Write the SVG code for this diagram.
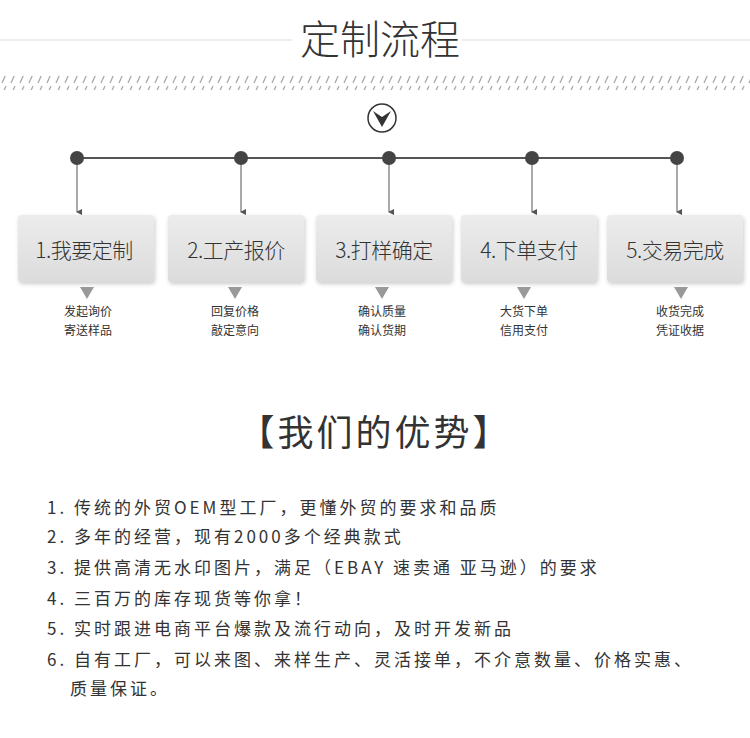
<svg xmlns="http://www.w3.org/2000/svg" width="750" height="738" viewBox="0 0 750 738">
<defs>
<pattern id="hatch" width="9" height="12" patternUnits="userSpaceOnUse"><line x1="2" y1="11" x2="6" y2="2" stroke="#aaa" stroke-width="1.3"/></pattern>
<linearGradient id="bg" x1="0" y1="0" x2="0" y2="1"><stop offset="0" stop-color="#ececec"/><stop offset="1" stop-color="#dcdcdc"/></linearGradient>
<marker id="ah" markerWidth="6" markerHeight="6" refX="3" refY="5" orient="auto" markerUnits="userSpaceOnUse"><path d="M0,0 L6,0 L3,6 Z" fill="#555"/></marker>
<style>
.t{font-family:"Noto Sans CJK SC","Noto Sans",sans-serif;fill:#333}
.box{fill:url(#bg);filter:drop-shadow(1px 2px 2px rgba(0,0,0,0.2))}
.bt{font-size:21px;text-anchor:middle;font-weight:300;letter-spacing:-0.5px}
.st{font-size:12px;text-anchor:middle}
.li{font-size:17px;letter-spacing:3px}
.dn{fill:#999}
</style>
</defs>
<rect width="750" height="738" fill="#fff"/>
<line x1="0" y1="40" x2="292" y2="40" stroke="#ddd"/>
<line x1="462" y1="40" x2="750" y2="40" stroke="#ddd"/>
<text class="t" x="380" y="54" font-size="40" font-weight="300" text-anchor="middle">定制流程</text>
<rect x="0" y="76" width="750" height="14" fill="url(#hatch)"/>
<g id="icon"><circle cx="382" cy="118" r="14" fill="none" stroke="#333" stroke-width="1.5"/><path d="M373,111 L382,127 L391,111 L382,117 Z" fill="#333"/></g>
<g id="connectors" stroke="#555">
<line x1="77" y1="158" x2="677" y2="158" stroke-width="2"/>
<line x1="77" y1="158" x2="77" y2="212" marker-end="url(#ah)"/>
<line x1="241" y1="158" x2="241" y2="212" marker-end="url(#ah)"/>
<line x1="389" y1="158" x2="389" y2="212" marker-end="url(#ah)"/>
<line x1="532" y1="158" x2="532" y2="212" marker-end="url(#ah)"/>
<line x1="677" y1="158" x2="677" y2="212" marker-end="url(#ah)"/>
<g fill="#444" stroke="none"><circle cx="77" cy="158" r="7"/><circle cx="241" cy="158" r="7"/><circle cx="389" cy="158" r="7"/><circle cx="532" cy="158" r="7"/><circle cx="677" cy="158" r="7"/></g>
</g>
<g id="n1"><rect class="box" x="18" y="215" width="136" height="67" rx="4"/><text class="t bt" x="84" y="258">1.我要定制</text><path class="dn" d="M80,287 L94,287 L87,299Z"/><text class="t st" x="88" y="316">发起询价</text><text class="t st" x="88" y="335">寄送样品</text></g>
<g id="n2"><rect class="box" x="168" y="215" width="136" height="67" rx="4"/><text class="t bt" x="236" y="258">2.工产报价</text><path class="dn" d="M228,287 L242,287 L235,299Z"/><text class="t st" x="235" y="316">回复价格</text><text class="t st" x="235" y="335">敲定意向</text></g>
<g id="n3"><rect class="box" x="316" y="215" width="136" height="67" rx="4"/><text class="t bt" x="384" y="258">3.打样确定</text><path class="dn" d="M375,287 L389,287 L382,299Z"/><text class="t st" x="382" y="316">确认质量</text><text class="t st" x="382" y="335">确认货期</text></g>
<g id="n4"><rect class="box" x="461" y="215" width="136" height="67" rx="4"/><text class="t bt" x="529" y="258">4.下单支付</text><path class="dn" d="M517,287 L531,287 L524,299Z"/><text class="t st" x="524" y="316">大货下单</text><text class="t st" x="524" y="335">信用支付</text></g>
<g id="n5"><rect class="box" x="607" y="215" width="136" height="67" rx="4"/><text class="t bt" x="675" y="258">5.交易完成</text><path class="dn" d="M674,287 L688,287 L681,299Z"/><text class="t st" x="680" y="316">收货完成</text><text class="t st" x="680" y="335">凭证收据</text></g>
<text class="t" x="375" y="446" font-size="36" letter-spacing="3" text-anchor="middle">【我们的优势】</text>
<g id="list">
<text class="t li" x="47" y="514">1. 传统的外贸OEM型工厂，更懂外贸的要求和品质</text>
<text class="t li" x="47" y="543">2. 多年的经营，现有2000多个经典款式</text>
<text class="t li" x="47" y="574">3. 提供高清无水印图片，满足（EBAY 速卖通 亚马逊）的要求</text>
<text class="t li" x="47" y="605">4. 三百万的库存现货等你拿！</text>
<text class="t li" x="47" y="635">5. 实时跟进电商平台爆款及流行动向，及时开发新品</text>
<text class="t li" x="47" y="666">6. 自有工厂，可以来图、来样生产、灵活接单，不介意数量、价格实惠、</text>
<text class="t li" x="70" y="695">质量保证。</text>
</g>
</svg>
